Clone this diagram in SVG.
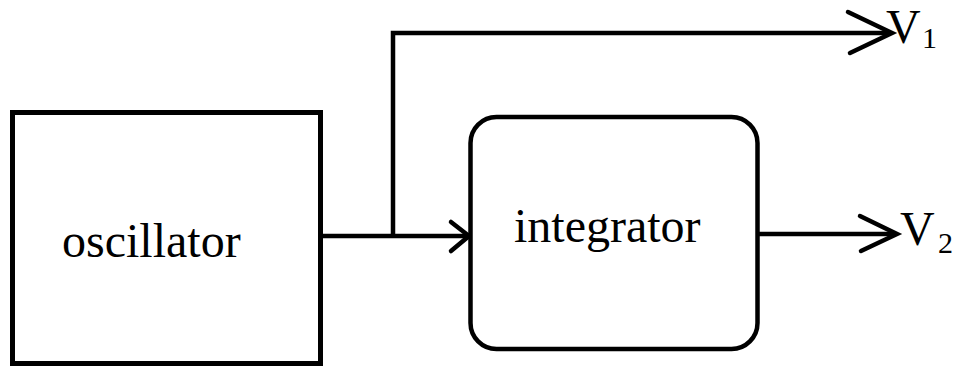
<svg xmlns="http://www.w3.org/2000/svg" width="953" height="366" viewBox="0 0 953 366">
  <style>
    .box { fill: #ffffff; stroke: #000000; }
    .wire { fill: none; stroke: #000000; stroke-width: 4.5; stroke-linecap: butt; stroke-linejoin: miter; }
    .head { fill: none; stroke: #000000; stroke-width: 4.5; stroke-linecap: round; stroke-linejoin: miter; }
    .label { font-family: "Liberation Serif", "Times New Roman", serif; font-size: 48px; fill: #000000; }
    .sub { font-size: 30px; }
  </style>
  <rect width="953" height="366" fill="#ffffff"/>

  <!-- connectors -->
  <g id="connectors">
    <!-- oscillator to integrator -->
    <path class="wire" d="M 321 236 L 468 236"/>
    <path class="head" d="M 451 222 L 469 236 L 451 251"/>
    <!-- branch up to V1 -->
    <path class="wire" d="M 393 238 L 393 33 L 891 33"/>
    <path class="head" d="M 848 12 L 892 33 L 850 53"/>
    <!-- integrator out to V2 -->
    <path class="wire" d="M 757 234 L 896 234"/>
    <path class="head" d="M 860 216 L 897 234 L 861 251"/>
  </g>

  <!-- oscillator -->
  <g id="oscillator">
    <rect class="box" x="12.5" y="112.5" width="308" height="251" stroke-width="5"/>
    <text class="label" x="62" y="257">oscillator</text>
  </g>

  <!-- integrator -->
  <g id="integrator">
    <rect class="box" x="470.5" y="117" width="287" height="232" rx="26" ry="26" stroke-width="4.5"/>
    <text class="label" x="514" y="242">integrator</text>
  </g>

  <!-- output labels -->
  <g id="v1">
    <text class="label" x="886" y="42.5">V<tspan class="sub" x="922" y="48">1</tspan></text>
  </g>
  <g id="v2">
    <text class="label" x="900" y="245">V<tspan class="sub" x="938" y="253">2</tspan></text>
  </g>
</svg>
